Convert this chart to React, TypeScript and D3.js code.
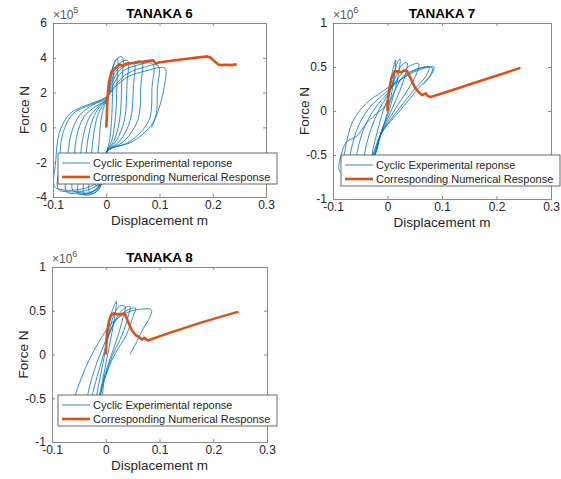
import React, { useRef, useEffect } from 'react'
import * as d3 from 'd3'

type Pt = [number, number]

// displacement ticks shared by all three plots
const xTicks = [-0.1, 0, 0.1, 0.2, 0.3]
const t6YTicks = [-4, -2, 0, 2, 4, 6]
const t78YTicks = [-1, -0.5, 0, 0.5, 1]

const legendLabels = ['Cyclic Experimental reponse', 'Corresponding Numerical Response']

// TANAKA 6 (force x 1e5 N)
const t6Cyclic: Pt[] = [
  [0, 0], [0.002, 1.2], [0.006, 2.6], [0.01, 3.2], [0.013, 3.45],
  [0.012, 2.2], [0.01, 0.4], [0.006, -0.8], [0.001, -1.4], [-0.005, -2.8], [-0.012, -3.3], [-0.02, -3.35],
  [-0.018, -2.4], [-0.014, -1.0], [-0.009, 0.6], [-0.004, 1.2], [0, 1.5], [0.006, 2.6], [0.012, 3.4], [0.017, 3.85], [0.021, 3.95],
  [0.02, 2.4], [0.017, 0.5], [0.01, -0.8], [0.001, -1.4], [-0.005, -2.9], [-0.015, -3.5], [-0.028, -3.7], [-0.032, -3.7],
  [-0.03, -2.6], [-0.026, -1.0], [-0.018, 0.5], [-0.008, 1.2], [0, 1.5], [0.007, 2.7], [0.014, 3.6], [0.022, 4.0], [0.03, 4.05],
  [0.029, 2.5], [0.025, 0.4], [0.014, -0.8], [0.001, -1.4], [-0.005, -3.0], [-0.018, -3.7], [-0.035, -3.9], [-0.042, -3.85],
  [-0.04, -2.6], [-0.035, -0.8], [-0.025, 0.5], [-0.012, 1.2], [0, 1.55], [0.008, 2.7], [0.016, 3.4], [0.028, 3.75], [0.04, 3.85],
  [0.039, 2.5], [0.034, 0.4], [0.018, -0.8], [0.001, -1.4], [-0.006, -3.0], [-0.02, -3.7], [-0.04, -3.85], [-0.052, -3.8],
  [-0.05, -2.5], [-0.045, -0.8], [-0.033, 0.5], [-0.015, 1.2], [0, 1.6], [0.009, 2.6], [0.02, 3.3], [0.035, 3.6], [0.052, 3.7],
  [0.051, 2.4], [0.045, 0.4], [0.025, -0.8], [0.001, -1.4], [-0.007, -3.0], [-0.025, -3.7], [-0.05, -3.75], [-0.063, -3.6],
  [-0.061, -2.4], [-0.056, -0.6], [-0.042, 0.6], [-0.02, 1.2], [0, 1.6], [0.01, 2.5], [0.025, 3.3], [0.045, 3.65], [0.066, 3.8],
  [0.065, 2.4], [0.059, 0.4], [0.033, -0.8], [0.001, -1.4], [-0.008, -3.1], [-0.03, -3.75], [-0.06, -3.8], [-0.075, -3.7],
  [-0.073, -2.3], [-0.067, -0.5], [-0.05, 0.7], [-0.025, 1.3], [0, 1.65], [0.012, 2.4], [0.03, 3.2], [0.055, 3.55], [0.087, 3.65],
  [0.086, 2.3], [0.08, 0.4], [0.045, -0.8], [0.001, -1.4], [-0.01, -3.1], [-0.035, -3.6], [-0.07, -3.7], [-0.09, -3.55],
  [-0.088, -2.2], [-0.082, -0.4], [-0.062, 0.8], [-0.03, 1.3], [0, 1.7], [0.014, 2.3], [0.035, 3.0], [0.065, 3.4], [0.097, 3.55],
  [0.096, 2.2], [0.09, 0.4], [0.05, -0.8], [0.001, -1.4], [-0.012, -3.0], [-0.04, -3.5], [-0.08, -3.6], [-0.097, -3.4],
  [-0.095, -2.0], [-0.088, -0.3], [-0.068, 0.8], [-0.035, 1.3], [0, 1.75], [0.016, 2.3], [0.04, 2.9], [0.075, 3.25], [0.11, 3.4],
  [0.108, 2.2], [0.098, 1.0], [0.085, 0],
]
const t6Numerical: Pt[] = [
  [0, 0], [0.001, 0.6], [0.002, 1.6], [0.005, 2.6], [0.01, 3.2], [0.017, 3.4], [0.022, 3.55], [0.026, 3.6],
  [0.032, 3.55], [0.036, 3.65], [0.05, 3.7], [0.07, 3.78], [0.088, 3.85], [0.093, 3.66], [0.098, 3.73],
  [0.14, 3.9], [0.19, 4.08], [0.196, 4.0], [0.204, 3.79], [0.21, 3.62], [0.216, 3.58], [0.225, 3.6],
  [0.235, 3.58], [0.245, 3.62],
]

// TANAKA 7 (force x 1e6 N)
const t7Cyclic: Pt[] = [
  [0, 0], [0.004, 0.25], [0.009, 0.45], [0.015, 0.58],
  [0.013, 0.42], [0.006, 0.15], [-0.004, -0.1], [-0.012, -0.25], [-0.02, -0.45], [-0.03, -0.62],
  [-0.027, -0.45], [-0.018, -0.22], [-0.008, 0.0], [0.004, 0.2], [0.013, 0.42], [0.018, 0.55], [0.023, 0.59],
  [0.021, 0.45], [0.012, 0.2], [0.0, -0.05], [-0.012, -0.25], [-0.022, -0.48], [-0.035, -0.65], [-0.045, -0.68],
  [-0.041, -0.45], [-0.03, -0.2], [-0.015, 0.02], [0.002, 0.2], [0.016, 0.4], [0.026, 0.52], [0.036, 0.55],
  [0.033, 0.42], [0.022, 0.22], [0.005, -0.02], [-0.012, -0.25], [-0.024, -0.5], [-0.045, -0.68], [-0.06, -0.7],
  [-0.055, -0.45], [-0.042, -0.18], [-0.022, 0.04], [0.0, 0.2], [0.02, 0.38], [0.038, 0.5], [0.057, 0.54],
  [0.053, 0.42], [0.038, 0.25], [0.012, 0.0], [-0.012, -0.26], [-0.026, -0.52], [-0.055, -0.7], [-0.072, -0.72],
  [-0.067, -0.45], [-0.052, -0.15], [-0.03, 0.06], [-0.005, 0.2], [0.025, 0.36], [0.05, 0.46], [0.076, 0.5],
  [0.071, 0.4], [0.05, 0.25], [0.018, 0.0], [-0.012, -0.26], [-0.028, -0.52], [-0.06, -0.72], [-0.082, -0.7],
  [-0.078, -0.45], [-0.064, -0.12], [-0.04, 0.08], [-0.01, 0.22], [0.025, 0.36], [0.055, 0.46], [0.085, 0.5],
  [0.081, 0.42], [0.06, 0.28], [0.025, 0.02], [-0.012, -0.26], [-0.03, -0.52], [-0.065, -0.72], [-0.088, -0.68],
  [-0.085, -0.5], [-0.075, -0.35], [-0.057, -0.29], [-0.04, -0.15], [-0.026, -0.06], [0.002, 0.09], [0.015, 0.25],
  [0.03, 0.4], [0.06, 0.49], [0.082, 0.49], [0.078, 0.4], [0.066, 0.3],
]
const t7Numerical: Pt[] = [
  [0, 0], [0, 0.08], [0.0025, 0.22], [0.007, 0.37], [0.013, 0.45], [0.02, 0.45], [0.025, 0.44], [0.03, 0.46],
  [0.036, 0.455], [0.041, 0.39], [0.051, 0.26], [0.058, 0.21], [0.064, 0.18], [0.07, 0.2], [0.074, 0.17],
  [0.079, 0.16], [0.1, 0.2], [0.15, 0.3], [0.2, 0.4], [0.244, 0.49],
]

// TANAKA 8 (force x 1e6 N)
const t8Cyclic: Pt[] = [
  [0, 0], [0.005, 0.3], [0.012, 0.5], [0.02, 0.61],
  [0.017, 0.45], [0.01, 0.2], [0.002, -0.05], [-0.006, -0.3], [-0.015, -0.55], [-0.022, -0.7],
  [-0.018, -0.5], [-0.01, -0.25], [-0.002, 0.0], [0.006, 0.25], [0.015, 0.45], [0.025, 0.55], [0.036, 0.55],
  [0.032, 0.42], [0.022, 0.2], [0.008, -0.05], [-0.004, -0.28], [-0.014, -0.55], [-0.03, -0.72],
  [-0.026, -0.5], [-0.016, -0.25], [-0.005, -0.02], [0.006, 0.22], [0.02, 0.42], [0.033, 0.52], [0.045, 0.55],
  [0.041, 0.42], [0.03, 0.22], [0.012, -0.02], [-0.003, -0.28], [-0.015, -0.55], [-0.04, -0.72],
  [-0.035, -0.5], [-0.025, -0.25], [-0.012, -0.02], [0.003, 0.2], [0.02, 0.4], [0.038, 0.5], [0.055, 0.53],
  [0.05, 0.42], [0.038, 0.22], [0.015, -0.02], [-0.002, -0.28], [-0.012, -0.55], [-0.06, -0.7],
  [-0.058, -0.5], [-0.046, -0.28], [-0.03, -0.05], [-0.012, 0.15], [0.01, 0.35], [0.04, 0.48], [0.07, 0.52],
  [0.085, 0.51], [0.08, 0.4], [0.07, 0.3], [0.058, 0.15], [0.045, 0],
]
const t8Numerical: Pt[] = [
  [0, 0], [0.001, 0.12], [0.0025, 0.26], [0.006, 0.38], [0.01, 0.45], [0.015, 0.47], [0.022, 0.46],
  [0.028, 0.46], [0.035, 0.47], [0.04, 0.4], [0.048, 0.28], [0.056, 0.22], [0.062, 0.2], [0.067, 0.17],
  [0.072, 0.19], [0.078, 0.16], [0.12, 0.25], [0.18, 0.37], [0.247, 0.49],
]

interface PanelSpec {
  title: string
  exponent: string
  yTicks: number[]
  cyclic: Pt[]
  numerical: Pt[]
  box: { left: number; right: number; top: number; bottom: number }
  legendAt: [number, number]
}

const panels: PanelSpec[] = [
  { title: 'TANAKA 6', exponent: '5', yTicks: t6YTicks, cyclic: t6Cyclic, numerical: t6Numerical,
    box: { left: 53, right: 266, top: 23, bottom: 197 }, legendAt: [58, 153] },
  { title: 'TANAKA 7', exponent: '6', yTicks: t78YTicks, cyclic: t7Cyclic, numerical: t7Numerical,
    box: { left: 333, right: 551, top: 23, bottom: 199 }, legendAt: [341, 155] },
  { title: 'TANAKA 8', exponent: '6', yTicks: t78YTicks, cyclic: t8Cyclic, numerical: t8Numerical,
    box: { left: 52, right: 267, top: 267, bottom: 442 }, legendAt: [58, 395] },
]

const FONT = '"Liberation Sans", Arial, sans-serif'
const BLUE = '#0072BD'
const ORANGE = '#D95319'
const TEXT = '#262626'
const AXIS = '#8a8a8a'

export default function App() {
  const svgRef = useRef<SVGSVGElement>(null)

  useEffect(() => {
    if (!svgRef.current) return
    const svg = d3.select(svgRef.current)
    svg.selectAll('*').remove()

    panels.forEach((p, idx) => {
      const { left, right, top, bottom } = p.box
      const x = d3.scaleLinear().domain([-0.1, 0.3]).range([left, right])
      const y = d3.scaleLinear().domain(d3.extent(p.yTicks) as [number, number]).range([bottom, top])
      const g = svg.append('g').attr('class', `panel-${idx}`)

      const clipId = `clip-${idx}`
      svg.append('defs').append('clipPath').attr('id', clipId)
        .append('rect').attr('x', left).attr('y', top).attr('width', right - left).attr('height', bottom - top)

      // white axes background
      g.append('rect').attr('x', left).attr('y', top).attr('width', right - left).attr('height', bottom - top)
        .attr('fill', '#fff')

      // experimental loops
      const blueLine = d3.line<Pt>().x(d => x(d[0])).y(d => y(d[1])).curve(d3.curveCatmullRom.alpha(0.5))
      g.append('path').datum(p.cyclic).attr('d', blueLine).attr('fill', 'none')
        .attr('stroke', BLUE).attr('stroke-width', 0.8).attr('clip-path', `url(#${clipId})`)

      // numerical response
      const orangeLine = d3.line<Pt>().x(d => x(d[0])).y(d => y(d[1]))
      g.append('path').datum(p.numerical).attr('d', orangeLine).attr('fill', 'none')
        .attr('stroke', ORANGE).attr('stroke-width', 2.6).attr('stroke-linejoin', 'round')

      // axes box with inward ticks
      const axB = g.append('g').attr('transform', `translate(0,${bottom})`)
        .call(d3.axisBottom(x).tickValues(xTicks).tickSize(-3).tickPadding(3).tickFormat(d => String(d)))
      const axT = g.append('g').attr('transform', `translate(0,${top})`)
        .call(d3.axisTop(x).tickValues(xTicks).tickSize(-3).tickFormat(() => ''))
      const axL = g.append('g').attr('transform', `translate(${left},0)`)
        .call(d3.axisLeft(y).tickValues(p.yTicks).tickSize(-3).tickPadding(6).tickFormat(d => String(d)))
      const axR = g.append('g').attr('transform', `translate(${right},0)`)
        .call(d3.axisRight(y).tickValues(p.yTicks).tickSize(-3).tickFormat(() => ''))
      ;[axB, axT, axL, axR].forEach(a => {
        a.select('.domain').attr('stroke', AXIS).attr('stroke-width', 1)
        a.selectAll('.tick line').attr('stroke', AXIS)
        a.selectAll('text').attr('fill', TEXT).style('font-family', FONT).style('font-size', '12px')
      })

      // labels
      const cx = (left + right) / 2
      g.append('text').attr('x', cx).attr('y', top - 5).attr('text-anchor', 'middle')
        .style('font-family', FONT).style('font-size', '13.5px').style('font-weight', 'bold')
        .attr('fill', '#000').text(p.title)
      g.append('text').attr('x', cx).attr('y', bottom + 28).attr('text-anchor', 'middle')
        .style('font-family', FONT).style('font-size', '13.5px').attr('fill', TEXT).text('Displacement m')
      g.append('text').attr('transform', `translate(${left - 24},${(top + bottom) / 2}) rotate(-90)`)
        .attr('text-anchor', 'middle').style('font-family', FONT).style('font-size', '13.5px')
        .attr('fill', TEXT).text('Force N')
      const ex = g.append('text').attr('x', left).attr('y', top - 4)
        .style('font-family', FONT).style('font-size', '12px').attr('fill', '#555')
      ex.append('tspan').text('\u00d710')
      ex.append('tspan').attr('dy', -6).style('font-size', '9px').text(p.exponent)

      // legend
      const [lx, ly] = p.legendAt
      const lg = g.append('g').attr('transform', `translate(${lx},${ly})`)
      lg.append('rect').attr('width', 219).attr('height', 31).attr('fill', '#fff')
        .attr('stroke', '#444').attr('stroke-width', 0.8)
      legendLabels.forEach((label, i) => {
        const ry = 10 + i * 14
        lg.append('line').attr('x1', 4).attr('x2', 32).attr('y1', ry).attr('y2', ry)
          .attr('stroke', i === 0 ? BLUE : ORANGE).attr('stroke-width', i === 0 ? 0.8 : 2.6)
        lg.append('text').attr('x', 35).attr('y', ry).attr('dy', '0.35em')
          .style('font-family', FONT).style('font-size', '11px').attr('fill', TEXT).text(label)
      })
    })
  }, [])

  return (
    <svg ref={svgRef} width={561} height={479}
      style={{ position: 'absolute', left: 0, top: 0, background: '#fff' }} />
  )
}
